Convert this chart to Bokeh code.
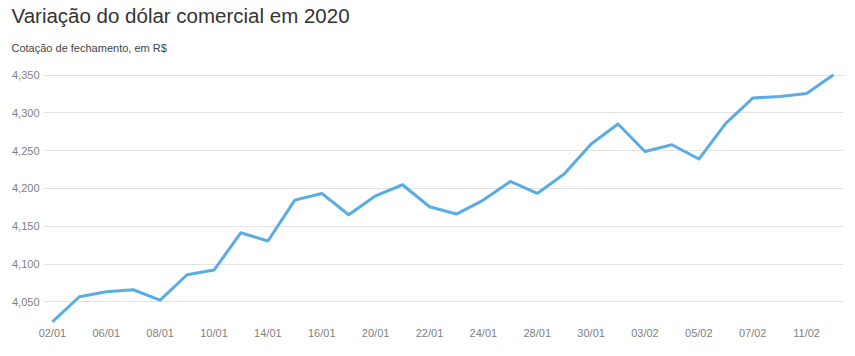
from bokeh.plotting import figure
from bokeh.models import FixedTicker, Title, Range1d, ColumnDataSource
from bokeh.embed import file_html
from bokeh.resources import INLINE

dates = ["02/01", "03/01", "06/01", "07/01", "08/01", "09/01", "10/01", "13/01",
         "14/01", "15/01", "16/01", "17/01", "20/01", "21/01", "22/01", "23/01",
         "24/01", "27/01", "28/01", "29/01", "30/01", "31/01", "03/02", "04/02",
         "05/02", "06/02", "07/02", "10/02", "11/02", "12/02"]
close = [4.0236, 4.0567, 4.0633, 4.0660, 4.0523, 4.0858, 4.0920, 4.1414,
         4.1304, 4.1846, 4.1934, 4.1652, 4.1903, 4.2049, 4.1758, 4.1661,
         4.1846, 4.2092, 4.1934, 4.2190, 4.2587, 4.2852, 4.2489, 4.2578,
         4.2389, 4.2860, 4.3196, 4.3217, 4.3257, 4.3504]
y_ticks = [4.05, 4.10, 4.15, 4.20, 4.25, 4.30, 4.35]
y_tick_labels = ["4,050", "4,100", "4,150", "4,200", "4,250", "4,300", "4,350"]

idx = list(range(len(dates)))
src = ColumnDataSource(dict(x=idx, y=close, d=dates))

FONT = "Liberation Sans"

p = figure(width=855, height=356, output_backend="svg", toolbar_location=None,
           x_range=Range1d(-0.33, 29.37), y_range=Range1d(4.02, 4.36),
           min_border_left=43, min_border_right=12, min_border_bottom=32,
           min_border_top=67, title=None)
p.outline_line_color = None
p.background_fill_color = "white"
p.border_fill_color = "white"

p.add_layout(Title(text="Cotação de fechamento, em R$", text_font=FONT,
                   text_font_size="11px", text_font_style="normal",
                   text_color="#444444", align="left", offset=-32, standoff=27), "above")
p.add_layout(Title(text="Variação do dólar comercial em 2020", text_font=FONT,
                   text_font_size="20.5px", text_font_style="normal",
                   text_color="#333333", align="left", offset=-32, standoff=0), "above")

p.line("x", "y", source=src, line_color="#5aade4", line_width=3, line_join="round")

xa = p.xaxis[0]
xa.ticker = FixedTicker(ticks=idx[::2])
xa.major_label_overrides = {i: dates[i] for i in idx[::2]}
ya = p.yaxis[0]
ya.ticker = FixedTicker(ticks=y_ticks)
ya.major_label_overrides = {t: l for t, l in zip(y_ticks, y_tick_labels)}
for ax in (xa, ya):
    ax.axis_line_color = None
    ax.major_tick_line_color = None
    ax.minor_tick_line_color = None
    ax.major_tick_out = 0
    ax.major_tick_in = 0
    ax.major_label_text_font = FONT
    ax.major_label_text_font_size = "11px"
    ax.major_label_text_color = "#7f7f7f"
xa.major_label_standoff = 2
ya.major_label_standoff = 4

p.xgrid.grid_line_color = None
p.ygrid.grid_line_color = "#e3e3e3"
p.ygrid.grid_line_width = 1

open("out.html", "w").write(file_html(p, INLINE))
